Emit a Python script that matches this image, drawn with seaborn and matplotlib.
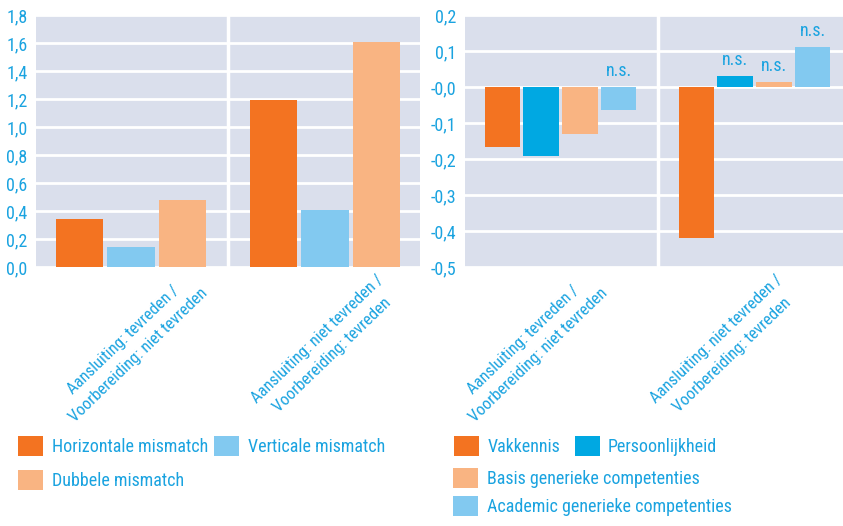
import matplotlib
matplotlib.use("Agg")
import matplotlib.pyplot as plt
import matplotlib.transforms as mtransforms
from matplotlib import font_manager
import seaborn as sns
import pandas as pd

# ---------------- data ----------------
groups = ["Aansluiting: tevreden /\nVoorbereiding: niet tevreden",
          "Aansluiting: niet tevreden /\nVoorbereiding: tevreden"]

left_series = ["Horizontale mismatch", "Verticale mismatch", "Dubbele mismatch"]
horizontale = [0.34, 1.19]
verticale = [0.14, 0.41]
dubbele = [0.48, 1.61]

right_series = ["Vakkennis", "Persoonlijkheid", "Basis generieke competenties",
                "Academic generieke competenties"]
vakkennis = [-0.168, -0.419]
persoonlijkheid = [-0.193, 0.031]
basis = [-0.130, 0.015]
academic = [-0.065, 0.112]
ns_vakkennis = [False, False]
ns_persoonlijkheid = [False, True]
ns_basis = [False, True]
ns_academic = [True, True]

left_yticks = [0.0, 0.2, 0.4, 0.6, 0.8, 1.0, 1.2, 1.4, 1.6, 1.8]
left_yticklabels = ["0,0", "0,2", "0,4", "0,6", "0,8", "1,0", "1,2", "1,4", "1,6", "1,8"]
right_yticks = [-0.5, -0.4, -0.3, -0.2, -0.1, 0.0, 0.1, 0.2]
right_yticklabels = ["-0,5", "-0,4", "-0,3", "-0,2", "-0,1", "-0,0", "0,1", "0,2"]

# ---------------- style ----------------
C_ORANGE = "#f37321"
C_LBLUE = "#82c9f0"
C_PEACH = "#f9b482"
C_BLUE = "#00a8e2"
BG = "#dadfec"
TXT = "#1aa3e0"

avail = {f.name for f in font_manager.fontManager.ttflist}
FONT = "DejaVu Sans"
for cand in ["Liberation Sans Narrow", "Roboto Condensed", "Open Sans Condensed",
             "DejaVu Sans Condensed", "Liberation Sans"]:
    if cand in avail:
        FONT = cand
        break
plt.rcParams["font.family"] = [FONT, "DejaVu Sans"]
FS = 13
FSX = 12

W, H = 843, 526
fig = plt.figure(figsize=(W / 100, H / 100), dpi=100)
ax1 = fig.add_axes([36 / W, 259 / H, 384 / W, 252 / H])
ax2 = fig.add_axes([465 / W, 259 / H, 385 / W, 252 / H])

dfL = pd.DataFrame({
    "group": groups * 3,
    "series": sum([[s] * 2 for s in left_series], []),
    "value": horizontale + verticale + dubbele,
})
dfR = pd.DataFrame({
    "group": groups * 4,
    "series": sum([[s] * 2 for s in right_series], []),
    "value": vakkennis + persoonlijkheid + basis + academic,
})

sns.barplot(data=dfL, x="group", y="value", hue="series", order=groups,
            hue_order=left_series, palette=[C_ORANGE, C_LBLUE, C_PEACH],
            saturation=1, errorbar=None, width=0.8, gap=0.09, linewidth=0,
            ax=ax1)
sns.barplot(data=dfR, x="group", y="value", hue="series", order=groups,
            hue_order=right_series, palette=[C_ORANGE, C_BLUE, C_PEACH, C_LBLUE],
            saturation=1, errorbar=None, width=0.8, gap=0.09, linewidth=0,
            ax=ax2)

hL, lL = ax1.get_legend_handles_labels()
hR, lR = ax2.get_legend_handles_labels()
ax1.get_legend().remove()
ax2.get_legend().remove()

for ax, ylim, yt, ytl in [(ax1, (0, 1.8), left_yticks, left_yticklabels),
                          (ax2, (-0.5, 0.2), right_yticks, right_yticklabels)]:
    ax.set_facecolor(BG)
    ax.set_axisbelow(True)
    ax.set_ylim(*ylim)
    ax.set_yticks(yt)
    ax.set_yticklabels(ytl)
    ax.yaxis.grid(True, color="white", lw=2)
    ax.xaxis.grid(False)
    ax.axvline(0.5, color="white", lw=2.5, zorder=0.8)
    for sp in ax.spines.values():
        sp.set_visible(False)
    ax.set_xlabel("")
    ax.set_ylabel("")
    ax.tick_params(axis="both", length=0, labelcolor=TXT, labelsize=FS)
    ax.tick_params(axis="y", pad=6)
    ax.tick_params(axis="x", pad=58, labelsize=FSX)
    ax.set_xticks([0, 1])
    ax.set_xticklabels(groups, rotation=44, ha="center", va="center",
                       rotation_mode="anchor", multialignment="center",
                       linespacing=1.6)

ax1.set_xlim((36 - 131) / 194, (420 - 131) / 194)
ax2.set_xlim((465 - 560.5) / 194, (850 - 560.5) / 194)

shiftR = mtransforms.ScaledTranslation(-30 / 100, 0, fig.dpi_scale_trans)
for lab in ax2.get_xticklabels():
    lab.set_transform(lab.get_transform() + shiftR)

# n.s. annotations
ns_flags = [ns_vakkennis, ns_persoonlijkheid, ns_basis, ns_academic]
bar_containers = [c for c in ax2.containers]
for flags, cont in zip(ns_flags, bar_containers):
    for flag, bar in zip(flags, cont):
        if flag:
            x = bar.get_x() + bar.get_width() / 2
            top = max(bar.get_y(), bar.get_y() + bar.get_height())
            ax2.annotate("n.s.", (x, top), xytext=(0, 5), textcoords="offset points",
                         ha="center", va="bottom", color=TXT, fontsize=FS)

# legends
common = dict(frameon=False, fontsize=FS, borderpad=0, borderaxespad=0,
              handlelength=1.4, handleheight=1.33, loc="upper left",
              bbox_transform=fig.transFigure)
legL = fig.legend([hL[0], hL[2], hL[1]], [lL[0], lL[2], lL[1]], ncol=2,
                  bbox_to_anchor=(18 / W, 1 - 436 / H), labelspacing=0.75,
                  handletextpad=0.5, columnspacing=0.3, **common)
legR1 = fig.legend([hR[0], hR[1]], [lR[0], lR[1]], ncol=2,
                   bbox_to_anchor=(454 / W, 1 - 436 / H),
                   handletextpad=0.45, columnspacing=0.8, **common)
legR2 = fig.legend([hR[2], hR[3]], [lR[2], lR[3]], ncol=1,
                   bbox_to_anchor=(453 / W, 1 - 468 / H), labelspacing=0.42,
                   handletextpad=0.5, **common)
for leg in (legL, legR1, legR2):
    for t in leg.get_texts():
        t.set_color(TXT)

fig.savefig("out.png", dpi=100, facecolor="white")
